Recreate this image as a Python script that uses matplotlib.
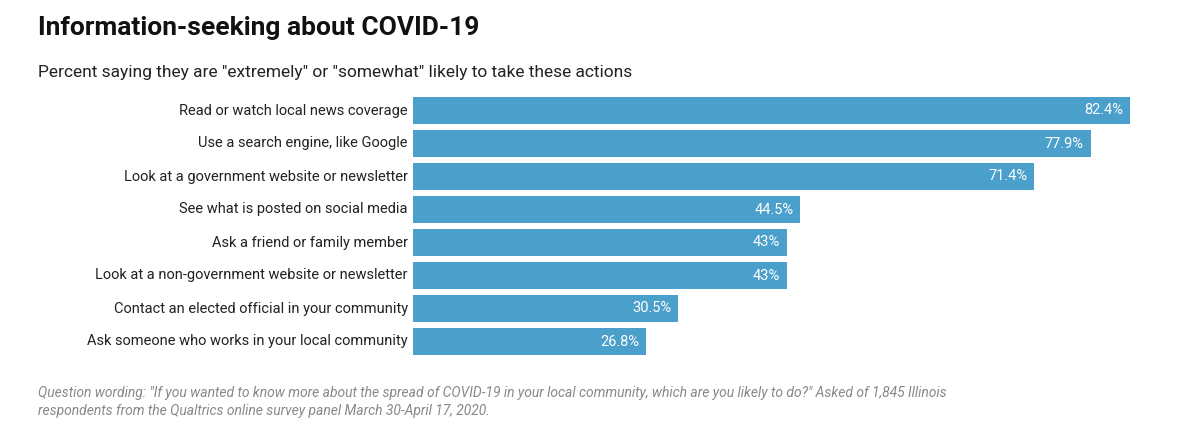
import matplotlib.pyplot as plt

categories = ["Read or watch local news coverage",
              "Use a search engine, like Google",
              "Look at a government website or newsletter",
              "See what is posted on social media",
              "Ask a friend or family member",
              "Look at a non-government website or newsletter",
              "Contact an elected official in your community",
              "Ask someone who works in your local community"]
values = [82.4, 77.9, 71.4, 44.5, 43, 43, 30.5, 26.8]
value_labels = ["82.4%", "77.9%", "71.4%", "44.5%", "43%", "43%", "30.5%", "26.8%"]

W, H = 1200, 430
fig = plt.figure(figsize=(12, 4.3), dpi=100)
plt.rcParams['font.family'] = ['Roboto', 'DejaVu Sans']

# axes in pixel coords: bars span 413..1130 for 0..82.4
ax = fig.add_axes([413 / W, 1 - 358 / H, (1130 - 413) / W, (358 - 94) / H])
y = list(range(len(values)))
ax.barh(y, values, height=0.82, color="#4a9fcb")
ax.set_xlim(0, 82.4)
ax.set_ylim(len(values) - 0.5, -0.5)
ax.axis("off")
for i, (v, lab) in enumerate(zip(values, value_labels)):
    ax.text(v - 0.8, i, lab, color="white", ha="right", va="center", fontsize=10.5)
    ax.text(-0.6, i, categories[i], color="#222222", ha="right", va="center", fontsize=10.5)

fig.text(38 / W, 1 - 28 / H, "Information-seeking about COVID-19", fontsize=19,
         fontweight="bold", va="center", color="#111111", fontstretch="condensed")
fig.text(38 / W, 1 - 72 / H, 'Percent saying they are "extremely" or "somewhat" likely to take these actions',
         fontsize=12.5, va="center", color="#222222")
fig.text(38 / W, 1 - 393 / H,
         'Question wording: "If you wanted to know more about the spread of COVID-19 in your local community, which are you likely to do?" Asked of 1,845 Illinois',
         fontsize=10, style="italic", color="#888888", va="center")
fig.text(38 / W, 1 - 411 / H,
         "respondents from the Qualtrics online survey panel March 30-April 17, 2020.",
         fontsize=10, style="italic", color="#888888", va="center")

fig.savefig("out.png", dpi=100)
